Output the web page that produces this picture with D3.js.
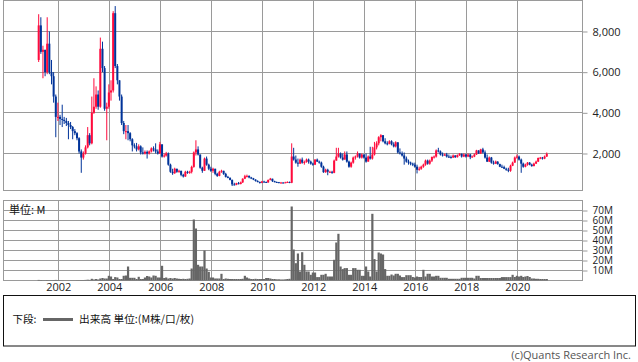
<!DOCTYPE html>
<html>
<head>
<meta charset="utf-8">
<script src="https://cdn.jsdelivr.net/npm/d3@7"></script>
<style>
  body { margin: 0; background: #fff; }
  text { font-family: "Open Sans", sans-serif; }
</style>
</head>
<body>
<svg id="chart" width="638" height="362"></svg>
<script>
// Monthly candles, Mar 2001 .. Feb 2021 (one row per year)
let firstMonth = [2001, 2];   // year, month index (March)
let firstOpen = 6600;

let closes = [
  8300,7000,7100,6000,7400,6000,5800,4800,3800,3800,
  3700,3650,3600,3500,3400,3300,3100,3000,2750,2100,1800,2000,
  2300,2900,2500,4000,4300,4900,4300,7150,6200,4200,4300,5000,
  5100,8900,6300,5600,4800,3500,3100,3100,3000,2700,2400,2350,
  2200,2350,2050,2000,2080,2000,2100,2250,2200,2100,2000,2450,
  1850,1900,2000,1450,1100,1030,1250,1100,1150,950,870,1100,
  1050,1100,1340,2050,2200,1950,1300,1150,1750,1450,1250,1150,
  1250,1000,900,1100,1150,1000,850,800,700,480,460,540,
  500,580,760,880,900,820,780,720,650,600,560,620,
  600,580,700,760,640,600,590,560,570,560,580,600,
  560,1850,1700,1550,1500,1700,1550,1580,1700,1600,1500,1450,
  1700,1600,1550,1350,1080,1200,1100,1100,1050,1650,1850,2000,
  1800,1700,1950,1600,1350,1550,1800,1850,2000,1800,1950,1800,
  1600,1850,1750,1950,2300,2500,2800,2900,2600,2500,2480,2600,
  2450,2350,2550,2050,2000,1900,1750,1600,1550,1500,1450,1350,
  1200,1250,1350,1450,1650,1500,1650,1830,1850,2150,2100,1950,
  1900,1950,1850,1820,1800,1900,1820,1920,1980,1850,1950,1850,
  1950,1820,1850,1950,2150,2000,2200,2050,1800,1600,1800,1550,
  1500,1600,1480,1350,1330,1250,1200,1150,1400,1550,1800,1850,
  1700,1500,1350,1450,1550,1450,1380,1500,1600,1780,1800,1750,
  1850,1980
];

let highs = [
  8850,8700,7300,7100,8700,8000,6600,6000,4900,4500,
  3900,4400,3800,3750,3600,3550,3350,3200,3050,2800,2200,2100,
  2400,3300,3000,4800,5700,5300,5100,7700,7500,6300,4500,5400,
  5600,9000,9250,6400,5600,4900,3600,3400,3400,3050,2750,2500,
  2520,2450,2400,2300,2150,2150,2150,2300,2350,2500,2200,2570,
  2450,2000,2080,2050,1500,1250,1300,1250,1200,1150,1000,1150,
  1150,1150,1400,2100,2650,2350,1950,1350,1800,1850,1500,1350,
  1300,1250,1050,1150,1200,1150,1050,900,830,720,560,560,
  600,620,780,950,960,920,850,800,730,680,620,650,
  660,620,720,800,760,660,620,600,600,590,610,630,
  620,2500,2280,1900,1750,1750,1800,1650,1750,1750,1650,1550,
  1720,1750,1650,1600,1400,1250,1250,1150,1150,1700,2280,2280,
  2050,2000,2100,2100,1650,1600,1850,1900,2100,2000,2000,1950,
  2000,1900,2330,2330,2570,2600,2850,2950,2900,2750,2600,2650,
  2650,2550,2600,2550,2250,2100,2050,1850,1700,1600,1550,1550,
  1450,1350,1400,1500,1700,1700,1700,1850,1900,2200,2280,2150,
  2050,2000,2030,1950,1900,1950,1920,1950,2020,2000,2000,1980,
  2000,1980,1900,2000,2180,2160,2230,2280,2150,1950,1850,1830,
  1650,1650,1620,1500,1450,1400,1300,1300,1450,1600,1850,1950,
  1900,1750,1550,1500,1580,1580,1500,1550,1650,1800,1830,1830,
  1900,2050
];

let lows = [
  6500,6900,5700,5800,5900,5900,5400,4500,2800,3600,
  3400,3300,3450,3350,2700,3200,2700,2900,2650,2000,1050,1700,
  1950,2250,2400,2450,3950,4200,4150,4250,6000,4100,2650,4200,
  4600,5000,6200,5400,4600,3400,2950,2700,2650,2600,2100,2250,
  2100,2150,1950,1950,1950,1750,1950,2050,2100,2000,1950,1980,
  1800,1800,1850,1400,1050,950,1000,1050,1050,880,820,850,
  1000,1000,1020,1300,1900,1900,1250,1050,1150,1400,1180,1100,
  1050,930,850,880,1050,950,820,780,680,400,430,440,
  480,480,550,740,820,780,740,690,620,580,520,540,
  570,550,560,680,600,580,560,540,540,540,550,570,
  540,540,1650,1500,1350,1480,1500,1450,1550,1500,1450,1400,
  1430,1580,1500,1300,1050,1050,930,1050,1000,1030,1650,1800,
  1750,1650,1700,1550,1300,1300,1500,1700,1800,1750,1750,1750,
  1550,1600,1700,1700,1900,2200,2400,2600,2550,2450,2400,2450,
  2400,2300,2300,2000,1950,1850,1450,1550,1450,1420,1380,1300,
  1020,1150,1200,1300,1400,1450,1450,1580,1750,1800,2050,1900,
  1850,1880,1800,1780,1760,1780,1780,1800,1880,1800,1820,1800,
  1820,1720,1800,1820,1930,1980,1980,2000,1750,1580,1580,1500,
  1450,1480,1450,1330,1300,1230,1150,1080,1100,1380,1550,1750,
  1650,1050,1300,1320,1400,1420,1350,1370,1480,1580,1720,1700,
  1720,1830
];

// volume, millions
let volumes = [
  0.6,0.5,0.4,0.4,0.5,0.4,0.4,0.5,0.6,0.5,
  0.4,0.4,0.3,0.3,0.3,0.3,0.3,0.3,0.4,0.4,0.5,0.5,
  0.6,0.8,0.6,1.7,1.0,1.5,1.0,2.0,2.5,2.0,2.0,4.7,
  4.0,1.5,3.4,3.0,1.5,1.5,4.7,5.0,14,2.7,2.7,2.7,
  1.5,3.7,1.5,1.5,3.0,4.5,4.0,3.0,5.0,4.7,3.0,3.0,
  14.7,2.5,3.0,2.0,2.5,2.0,2.5,2.0,1.7,1.5,1.7,1.5,
  1.7,2.0,12,61,52,15.7,14,14,30,12,8.7,3,
  3,2,2,2,6.7,1.5,2,1.7,1.5,1.5,1.5,1.5,
  1.5,1.5,1.7,4.7,3,2,1.5,1.5,1.7,1.5,1.5,1.5,
  1.5,2.5,2.5,2.0,1.5,1.5,1.2,1.2,1.0,1.0,1.2,1.5,
  1.7,74,31,17.3,27,9,28.3,15.7,9,9,5.7,8,
  8,3.4,3.4,5.7,5.7,6.7,4,4,4,20.7,38,46.7,
  14,11.4,12.4,12.4,5.7,5.7,12.4,12.4,10.7,10.7,4.7,4.7,
  14,9,4,66.7,21.4,9,28,27,26,11.4,4.7,4.7,
  6,5,6.7,6.7,5,3.4,3.4,5.3,5.3,5.3,3.5,3,
  4,3.5,3.5,10.7,4,6.7,6.7,4,4,4.7,4.7,2.7,
  2.7,2.7,2.7,1.7,1.7,1.7,1.7,1.7,1.7,2.7,2.7,2.7,
  2.7,2.7,2.7,2.0,4.7,4.7,2.5,2.5,2.5,2.5,2.5,2.5,
  2.5,2.5,2.5,2.5,3.4,3.4,3.4,3.4,3.4,5.7,3.5,4.7,
  4,4.7,3.5,4,4.5,3.5,2,2,1.7,1.7,1.5,1.5,
  1.5,1.5
];

let priceTicks = [2000, 4000, 6000, 8000];
let volumeTicks = [10, 20, 30, 40, 50, 60, 70];
let yearTicks = [2002, 2004, 2006, 2008, 2010, 2012, 2014, 2016, 2018, 2020];

let upColor = '#ff0a3c';
let downColor = '#003399';
let gridColor = '#9a9a9a';

// build rows
let data = closes.map(function(c, i) {
  return {
    date: new Date(firstMonth[0], firstMonth[1] + i, 26),
    open: i == 0 ? firstOpen : closes[i - 1],
    high: highs[i],
    low: lows[i],
    close: c,
    volume: volumes[i]
  };
});

let svg = d3.select('#chart');

// panels
let left = 3.5, right = 582.5;
let priceTop = 0.5, priceBottom = 190.5;
let volTop = 200.5, volBottom = 280.5;

let xScale = d3.scaleTime()
  .domain([new Date(2002, 0, 1), new Date(2020, 0, 1)])
  .range([58.3, 517.3]);
let yPrice = d3.scaleLinear().domain([180, 9524]).range([priceBottom, priceTop]);
let yVol = d3.scaleLinear().domain([0, 80]).range([volBottom, volTop]);

let yearDates = yearTicks.map(function(y) { return new Date(y, 0, 1); });
let crisp = function(v) { return Math.round(v - 0.5) + 0.5; };

// grid lines
function drawGrid(top, bottom, yScale, ticks) {
  let g = svg.append('g').attr('stroke', gridColor).attr('stroke-width', 1);
  g.selectAll('.vg')
    .data(yearDates)
    .enter().append('line')
    .attr('x1', function(d) { return crisp(xScale(d)); })
    .attr('x2', function(d) { return crisp(xScale(d)); })
    .attr('y1', top)
    .attr('y2', bottom);
  g.selectAll('.hg')
    .data(ticks)
    .enter().append('line')
    .attr('x1', left)
    .attr('x2', right)
    .attr('y1', function(d) { return crisp(yScale(d)); })
    .attr('y2', function(d) { return crisp(yScale(d)); });
  svg.append('rect')
    .attr('x', left).attr('y', top)
    .attr('width', right - left).attr('height', bottom - top)
    .attr('fill', 'none').attr('stroke', gridColor);
}
drawGrid(priceTop, priceBottom, yPrice, priceTicks);
drawGrid(volTop, volBottom, yVol, volumeTicks);

// candles
let candles = svg.append('g');
candles.selectAll('.wick')
  .data(data)
  .enter().append('line')
  .attr('class', 'wick')
  .attr('x1', function(d) { return xScale(d.date); })
  .attr('x2', function(d) { return xScale(d.date); })
  .attr('y1', function(d) { return yPrice(d.high); })
  .attr('y2', function(d) { return yPrice(d.low); })
  .attr('stroke', function(d) { return d.close >= d.open ? upColor : downColor; })
  .attr('stroke-width', 1);
candles.selectAll('.body')
  .data(data)
  .enter().append('rect')
  .attr('class', 'body')
  .attr('x', function(d) { return xScale(d.date) - 1; })
  .attr('width', 2)
  .attr('y', function(d) { return yPrice(Math.max(d.open, d.close)); })
  .attr('height', function(d) {
    return Math.max(1, Math.abs(yPrice(d.open) - yPrice(d.close)));
  })
  .attr('fill', function(d) { return d.close >= d.open ? upColor : downColor; });

// volume bars
svg.append('g').selectAll('.vol')
  .data(data)
  .enter().append('rect')
  .attr('class', 'vol')
  .attr('x', function(d) { return xScale(d.date) - 1.1; })
  .attr('width', 2.2)
  .attr('y', function(d) { return yVol(d.volume); })
  .attr('height', function(d) { return yVol(0) - yVol(d.volume); })
  .attr('fill', '#666');

// right axes
let priceAxis = svg.append('g')
  .attr('transform', 'translate(' + right + ',0)')
  .call(d3.axisRight(yPrice).tickValues(priceTicks).tickSize(5).tickPadding(5)
    .tickFormat(d3.format(',')));
let volAxis = svg.append('g')
  .attr('transform', 'translate(' + right + ',0)')
  .call(d3.axisRight(yVol).tickValues(volumeTicks).tickSize(5).tickPadding(5)
    .tickFormat(function(d) { return d + 'M'; }));
let yearAxis = svg.append('g')
  .attr('transform', 'translate(0,' + volBottom + ')')
  .call(d3.axisBottom(xScale).tickValues(yearDates).tickSize(0).tickPadding(3)
    .tickFormat(d3.timeFormat('%Y')));

[priceAxis, volAxis, yearAxis].forEach(function(a) {
  a.select('.domain').remove();
  a.selectAll('line').attr('stroke', gridColor);
  a.selectAll('text').attr('fill', '#222')
    .style('font-family', '"Open Sans", sans-serif').style('font-size', '11px');
});
volAxis.selectAll('text').style('font-size', '10px');

// unit label
svg.append('text')
  .attr('x', 9).attr('y', 213.5)
  .style('font-family', '"Noto Sans CJK JP", sans-serif')
  .style('font-size', '11px').attr('fill', '#111')
  .text('単位: M');

// legend box
svg.append('rect')
  .attr('x', 3.5).attr('y', 295.5)
  .attr('width', 632).attr('height', 50.5)
  .attr('fill', '#fff').attr('stroke', '#111');
svg.append('text')
  .attr('x', 12.5).attr('y', 323)
  .style('font-family', '"Noto Sans CJK JP", sans-serif')
  .style('font-size', '10.5px').attr('fill', '#111')
  .text('下段:');
svg.append('line')
  .attr('x1', 43).attr('x2', 73).attr('y1', 319.5).attr('y2', 319.5)
  .attr('stroke', '#666').attr('stroke-width', 3);
svg.append('text')
  .attr('x', 79).attr('y', 323)
  .style('font-family', '"Noto Sans CJK JP", sans-serif')
  .style('font-size', '10.7px').attr('fill', '#111')
  .text('出来高 単位:(M株/口/枚)');

// copyright
svg.append('text')
  .attr('x', 631).attr('y', 359)
  .attr('text-anchor', 'end')
  .style('font-size', '11px').attr('fill', '#555')
  .text('(c)Quants Research Inc.');
</script>
</body>
</html>
